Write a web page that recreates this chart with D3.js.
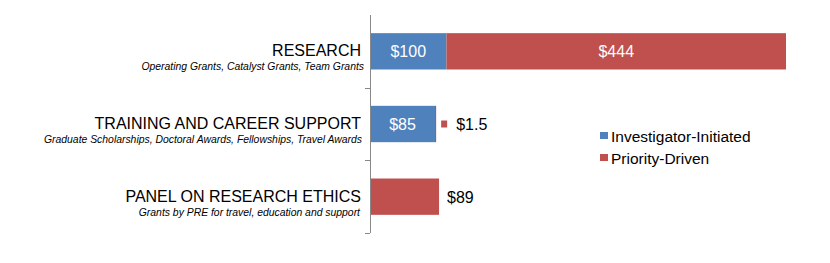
<!DOCTYPE html>
<html lang="en">
<head>
<meta charset="UTF-8" />
<title>Funding</title>
<script src="https://d3js.org/d3.v7.min.js"></script>
<style>
body { margin: 0; background: #fff; }
text { font-family: "Liberation Sans", Arial, sans-serif; }
</style>
</head>
<body>
<script>
var categories = ["RESEARCH", "TRAINING AND CAREER SUPPORT", "PANEL ON RESEARCH ETHICS"];
var subtitles = ["Operating Grants, Catalyst Grants, Team  Grants",
  "Graduate Scholarships, Doctoral Awards, Fellowships, Travel Awards",
  "Grants by PRE for travel, education and support"];
var investigator = [100, 85, 0];
var priority = [444, 1.5, 89];
var seriesNames = ["Investigator-Initiated", "Priority-Driven"];
var colors = ["#4f81bd", "#c0504d"];

var width = 830, height = 263;
var svg = d3.select("body").append("svg").attr("width", width).attr("height", height);

var x = d3.scaleLinear().domain([0, 544]).range([370, 786]);
var y = d3.scaleBand().domain(categories).range([15, 233]).paddingInner(0.5).paddingOuter(0.25);

// axis
svg.append("line").attr("x1", 370.5).attr("x2", 370.5).attr("y1", 15).attr("y2", 233)
  .attr("stroke", "#888");
var tickY = [15 + 218 / 3, 15 + 2 * 218 / 3, 233];
tickY.forEach(function (t) {
  svg.append("line").attr("x1", 365).attr("x2", 370).attr("y1", Math.round(t) + 0.5).attr("y2", Math.round(t) + 0.5)
    .attr("stroke", "#888");
});

categories.forEach(function (c, i) {
  var y0 = y(c), bh = y.bandwidth(), cy = y0 + bh / 2;
  if (investigator[i] > 0) {
    svg.append("rect").attr("x", x(0) + 1).attr("y", y0).attr("width", x(investigator[i]) - x(0) - 1).attr("height", bh)
      .attr("fill", colors[0]);
    svg.append("text").attr("x", (x(0) + x(investigator[i])) / 2).attr("y", cy + 6)
      .attr("text-anchor", "middle").attr("fill", "#fff").attr("font-size", 16).text("$" + investigator[i]);
  }
  var xs = x(investigator[i]);
  var xe = x(investigator[i] + priority[i]);
  svg.append("rect").attr("x", xs + (investigator[i] > 0 ? 0 : 1)).attr("y", y0).attr("width", Math.max(1, xe - xs))
    .attr("height", bh).attr("fill", colors[1]);
  if (xe - xs > 100) {
    svg.append("text").attr("x", (xs + xe) / 2).attr("y", cy + 6)
      .attr("text-anchor", "middle").attr("fill", "#fff").attr("font-size", 16).text("$" + priority[i]);
  } else if (xe - xs < 5) {
    svg.append("rect").attr("x", xe + 5).attr("y", cy - 3.5).attr("width", 6).attr("height", 7).attr("fill", colors[1]);
    svg.append("text").attr("x", xe + 20).attr("y", cy + 6).attr("fill", "#000").attr("font-size", 16).text("$" + priority[i]);
  } else {
    svg.append("text").attr("x", xe + 9).attr("y", cy + 6).attr("fill", "#000").attr("font-size", 16).text("$" + priority[i]);
  }
  // labels
  svg.append("text").attr("x", 361).attr("y", cy + 5).attr("text-anchor", "end")
    .attr("font-size", 16).attr("fill", "#000").text(c);
  svg.append("text").attr("x", 364 - i * 2).attr("y", cy + 19).attr("text-anchor", "end")
    .attr("font-size", 10.4).attr("font-style", "italic").attr("fill", "#000").text(subtitles[i]);
});

// legend
seriesNames.forEach(function (s, i) {
  var ly = 135.5 + i * 22;
  svg.append("rect").attr("x", 600).attr("y", ly - 3.5).attr("width", 8).attr("height", 7).attr("fill", colors[i]);
  svg.append("text").attr("x", 611).attr("y", ly + 6).attr("font-size", 15.5).attr("fill", "#000").text(s);
});
</script>
</body>
</html>
